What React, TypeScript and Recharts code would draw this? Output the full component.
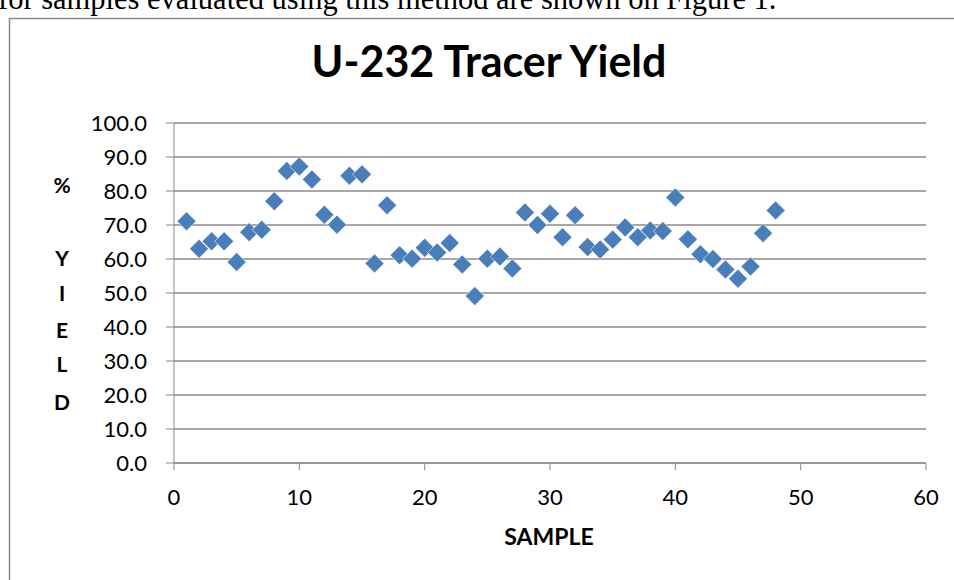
import { CartesianGrid, Scatter, ScatterChart, XAxis, YAxis } from "recharts";

const sampleNo = [
  1, 2, 3, 4, 5, 6, 7, 8, 9, 10, 11, 12, 13, 14, 15, 16, 17, 18, 19, 20, 21, 22, 23, 24,
  25, 26, 27, 28, 29, 30, 31, 32, 33, 34, 35, 36, 37, 38, 39, 40, 41, 42, 43, 44, 45, 46, 47, 48,
];
const yieldPct = [
  71.1, 63.0, 65.2, 65.2, 59.1, 67.9, 68.6, 77.0, 85.9, 87.2, 83.4, 73.0, 70.1, 84.5, 84.9, 58.7,
  75.8, 61.1, 60.1, 63.3, 61.9, 64.7, 58.4, 49.1, 60.1, 60.7, 57.2, 73.7, 70.0, 73.3, 66.4, 72.9,
  63.5, 62.8, 65.7, 69.3, 66.4, 68.4, 68.2, 78.1, 65.8, 61.4, 60.0, 56.9, 54.2, 57.8, 67.6, 74.3,
];
const xTicks = [0, 10, 20, 30, 40, 50, 60];
const yTicks = [0, 10, 20, 30, 40, 50, 60, 70, 80, 90, 100];
const yLetters = ["%", "Y", "I", "E", "L", "D"];
const yLetterPos = [185, 258, 293, 330, 364, 402];

const data = sampleNo.map((x, i) => ({ x, y: yieldPct[i] }));

const AXIS = "#8a8a8a";
const MARKER = "#4a7ebb";
const FONT = "Lato, 'Open Sans', sans-serif";

const Diamond = (props: any) => {
  const { cx, cy } = props;
  const r = 9.5;
  return (
    <polygon
      points={`${cx},${cy - r} ${cx + r},${cy} ${cx},${cy + r} ${cx - r},${cy}`}
      fill={MARKER}
      stroke="#ffffff"
      strokeWidth={0.6}
    />
  );
};

export default function App() {
  return (
    <div
      style={{
        position: "fixed",
        left: 0,
        top: 0,
        width: 954,
        height: 580,
        background: "#fff",
        overflow: "hidden",
      }}
    >
      <svg
        width={954}
        height={580}
        style={{ position: "absolute", left: 0, top: 0, pointerEvents: "none" }}
      >
        <text x={-2} y={9} fontFamily="'Liberation Serif', serif" fontSize={30.5} fill="#000">
          for samples evaluated using this method are shown on Figure 1.
        </text>
        <rect x={9.5} y={18.5} width={1000} height={700} fill="none" stroke={AXIS} strokeWidth={1.5} />
        <text
          x={489}
          y={77}
          textAnchor="middle"
          fontFamily={FONT}
          fontWeight={700}
          fontSize={43}
          fill="#000"
        >
          U-232 Tracer Yield
        </text>
        {yLetters.map((l, i) => (
          <text
            key={l}
            x={62}
            y={yLetterPos[i]}
            dy="0.36em"
            textAnchor="middle"
            fontFamily={FONT}
            fontWeight={700}
            fontSize={21}
            fill="#000"
          >
            {l}
          </text>
        ))}
        <text
          x={549}
          y={545}
          textAnchor="middle"
          fontFamily={FONT}
          fontWeight={700}
          fontSize={23}
          fill="#000"
        >
          SAMPLE
        </text>
      </svg>
      <div style={{ position: "absolute", left: 0, top: 0 }}>
        <ScatterChart width={954} height={580} margin={{ top: 123, right: 28, bottom: 57, left: 0 }}>
          <CartesianGrid vertical={false} stroke={AXIS} strokeWidth={1.3} />
          <XAxis
            type="number"
            dataKey="x"
            domain={[0, 60]}
            ticks={xTicks}
            height={60}
            stroke={AXIS}
            tickSize={7}
            tickMargin={19}
            tick={{ fontSize: 22, fill: "#000", fontFamily: FONT }}
          />
          <YAxis
            type="number"
            dataKey="y"
            domain={[0, 100]}
            ticks={yTicks}
            width={174}
            stroke={AXIS}
            tickSize={8}
            tickMargin={19}
            tickFormatter={(v: number) => v.toFixed(1)}
            tick={{ fontSize: 22, fill: "#000", fontFamily: FONT }}
          />
          <Scatter data={data} shape={Diamond} isAnimationActive={false} />
        </ScatterChart>
      </div>
    </div>
  );
}
